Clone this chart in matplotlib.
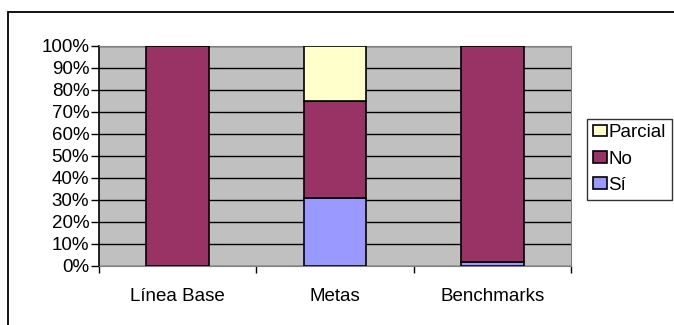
import numpy as np
import matplotlib.pyplot as plt
from matplotlib.patches import Rectangle

plt.rcParams['font.family'] = ['Liberation Sans', 'DejaVu Sans']

categories = ["Línea Base", "Metas", "Benchmarks"]
si = [0, 31, 2]
no = [100, 44, 98]
parcial = [0, 25, 0]

fig = plt.figure(figsize=(6.74, 3.25), dpi=100)
ax = fig.add_axes([99 / 674, 1 - 266 / 325, 472 / 674, 220 / 325])

# outer chart border, running off the right and bottom edges
fig.patches.append(Rectangle((8 / 674, -0.1), 1.2, 1 - 12 / 325 + 0.1,
                             transform=fig.transFigure, fill=False,
                             edgecolor='black', linewidth=1.3))

ax.set_facecolor('#C0C0C0')
x = np.arange(len(categories))
w = 0.4
bottom = np.zeros(len(categories))
for vals, color, label in [(si, '#9999FF', 'Sí'), (no, '#993366', 'No'),
                           (parcial, '#FFFFCC', 'Parcial')]:
    ax.bar(x, vals, w, bottom=bottom, color=color, edgecolor='black',
           linewidth=1.2, label=label, zorder=3)
    bottom += np.array(vals)

ax.set_xlim(-0.5, 2.5)
ax.set_ylim(0, 100)
ax.set_yticks(np.arange(0, 101, 10))
ax.set_yticklabels([f"{v}%" for v in range(0, 101, 10)], fontsize=13.5)
ax.yaxis.grid(True, color='black', linewidth=1, zorder=1)
ax.set_axisbelow(True)

ax.set_xticks(x)
ax.set_xticklabels(categories, fontsize=13.5)
ax.tick_params(axis='x', length=0, pad=16)
ax.set_xticks([-0.5, 0.5, 1.5, 2.5], minor=True)
ax.tick_params(axis='x', which='minor', length=5, direction='out', width=1)
ax.tick_params(axis='y', length=6, direction='out', width=1, pad=1)

for s in ['top', 'right']:
    ax.spines[s].set_color('#808080')
ax.spines['left'].set_color('black')
ax.spines['bottom'].set_color('#808080')
ax.spines['left'].set_linewidth(1.2)

handles, labels = ax.get_legend_handles_labels()
leg = ax.legend(handles[::-1], labels[::-1], loc='center left',
                bbox_to_anchor=(587 / 674, 1 - 159 / 325),
                bbox_transform=fig.transFigure, fontsize=13.5, frameon=True,
                fancybox=False, edgecolor='black', handlelength=0.75,
                handleheight=0.6, handletextpad=0.1, borderpad=0.3,
                labelspacing=0.5, borderaxespad=0)
leg.get_frame().set_linewidth(1)

fig.savefig('out.png', dpi=100)
